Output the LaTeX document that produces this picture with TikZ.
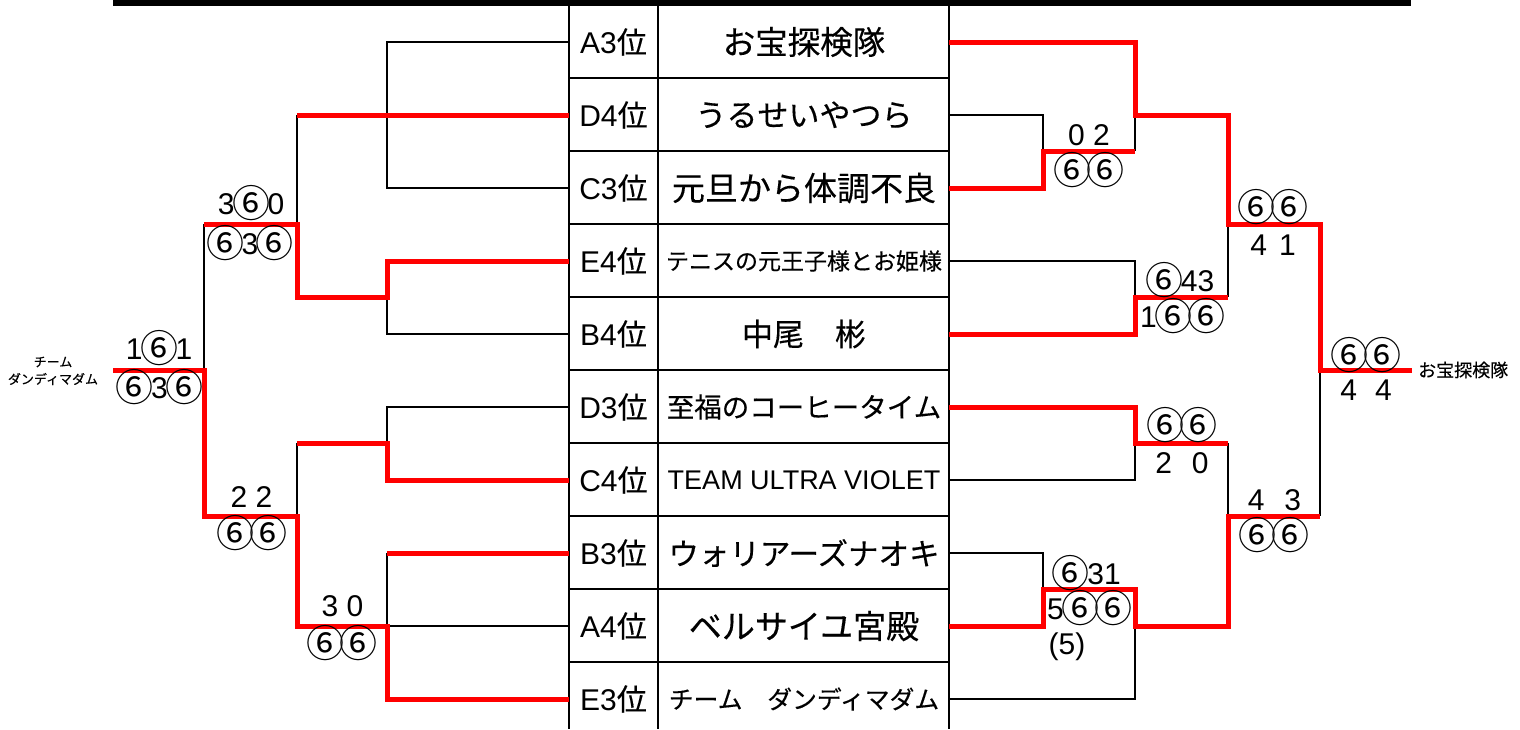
\documentclass[tikz,border=0pt]{standalone}
\usepackage{fontspec}
\setmainfont{Liberation Sans}
\newfontfamily\jp[FakeBold=0.3]{Noto Sans CJK JP}
\newfontfamily\jpc{Noto Sans CJK JP}
\newcommand\fs[1]{\fontsize{#1}{#1}\selectfont}
\newcommand\cir{\makebox[33pt]{\raisebox{-2.5pt}{\jpc\fs{38}⑥}}}
\definecolor{winred}{RGB}{255,0,0}
\begin{document}
\begin{tikzpicture}[x=1pt,y=-1pt,
  grid/.style={line width=1.6pt,black},
  lose/.style={line width=1.6pt,black,line join=miter},
  win/.style={line width=5pt,winred,line join=miter},
  lbl/.style={inner sep=0pt,anchor=center},
  rank/.style={lbl,font=\fs{30}},
  score/.style={lbl,font=\fs{30}}]
\useasboundingbox (0,0) rectangle (1520,729);
% top bar
\fill (113,0) rectangle (1411,5.5);
% table grid
\foreach \y in {78,151,224,297,370,443,516,589,662}
  \draw[grid] (569,\y) -- (949,\y);
\draw[grid] (569,5) -- (569,729);
\draw[grid] (658,5) -- (658,729);
\draw[grid] (949,5) -- (949,729);
% rank column
\node[rank] (rank1) at (613.5,42) {A3{\jp 位}};
\node[rank] (rank2) at (613.5,115) {D4{\jp 位}};
\node[rank] (rank3) at (613.5,188) {C3{\jp 位}};
\node[rank] (rank4) at (613.5,261) {E4{\jp 位}};
\node[rank] (rank5) at (613.5,334) {B4{\jp 位}};
\node[rank] (rank6) at (613.5,407) {D3{\jp 位}};
\node[rank] (rank7) at (613.5,480) {C4{\jp 位}};
\node[rank] (rank8) at (613.5,553) {B3{\jp 位}};
\node[rank] (rank9) at (613.5,626) {A4{\jp 位}};
\node[rank] (rank10) at (613.5,699) {E3{\jp 位}};
% team column
\node[lbl,font=\jp\fs{32.5}] (team1) at (804,42) {お宝探検隊};
\node[lbl,font=\jp\fs{31}] (team2) at (804,115) {うるせいやつら};
\node[lbl,font=\jp\fs{33}] (team3) at (804,188) {元旦から体調不良};
\node[lbl,font=\jp\fs{23}] (team4) at (804,261) {テニスの元王子様とお姫様};
\node[lbl,font=\jp\fs{31}] (team5) at (804,334) {中尾　彬};
\node[lbl,font=\jp\fs{27.5}] (team6) at (804,407) {至福のコーヒータイム};
\node[lbl,font=\fs{27}] (team7) at (804,480) {TEAM ULTRA VIOLET};
\node[lbl,font=\jp\fs{30.5}] (team8) at (804,553) {ウォリアーズナオキ};
\node[lbl,font=\jp\fs{33}] (team9) at (804,626) {ベルサイユ宮殿};
\node[lbl,font=\jp\fs{24.8}] (team10) at (804,699) {チーム　ダンディマダム};
% ---------- left bracket: losing lines ----------
\draw[lose] (569,42) -- (387,42) -- (387,188) -- (569,188);
\draw[lose] (297,115) -- (297,224);
\draw[lose] (387,297) -- (387,334) -- (569,334);
\draw[lose] (204,224) -- (204,370);
\draw[lose] (569,407) -- (387,407) -- (387,443);
\draw[lose] (297,443) -- (297,516);
\draw[lose] (387,553) -- (387,626) -- (569,626);
% ---------- right bracket: losing lines ----------
\draw[lose] (949,115) -- (1043,115) -- (1043,151);
\draw[lose] (1135,115) -- (1135,151);
\draw[lose] (949,261) -- (1135,261) -- (1135,297);
\draw[lose] (1228,297) -- (1228,224);
\draw[lose] (1135,443) -- (1135,480) -- (949,480);
\draw[lose] (1228,443) -- (1228,516);
\draw[lose] (1320,516) -- (1320,370);
\draw[lose] (949,553) -- (1043,553) -- (1043,589);
\draw[lose] (1135,626) -- (1135,699) -- (949,699);
% ---------- left bracket: winning lines ----------
\draw[win] (569,115) -- (297,115);
\draw[win] (569,261) -- (387,261) -- (387,297) -- (297,297) -- (297,224) -- (204,224);
\draw[win] (569,480) -- (387,480) -- (387,443) -- (297,443);
\draw[win] (569,553) -- (387,553);
\draw[win] (569,699) -- (387,699) -- (387,626) -- (297,626) -- (297,516) -- (204,516) -- (204,370) -- (113,370);
% ---------- right bracket: winning lines ----------
\draw[win] (949,42) -- (1135,42) -- (1135,115) -- (1228,115) -- (1228,224) -- (1320,224) -- (1320,370) -- (1412,370);
\draw[win] (949,188) -- (1043,188) -- (1043,151) -- (1135,151);
\draw[win] (949,334) -- (1135,334) -- (1135,297) -- (1228,297);
\draw[win] (949,407) -- (1135,407) -- (1135,443) -- (1228,443);
\draw[win] (949,626) -- (1043,626) -- (1043,589) -- (1135,589) -- (1135,626) -- (1228,626) -- (1228,516) -- (1320,516);
% ---------- scores, left ----------
\node[score] (l1a) at (251,203) {3\cir0};
\node[score] (l1b) at (250,243) {\cir3\cir};
\node[score] (l2a) at (159,348) {1\cir1};
\node[score] (l2b) at (159.5,387) {\cir3\cir};
\node[score] (l3a) at (251.5,497) {2 2};
\node[score] (l3b) at (251.5,533) {\cir\cir};
\node[score] (l4a) at (342.5,606) {3 0};
\node[score] (l4b) at (342,643) {\cir\cir};
% ---------- scores, right ----------
\node[score] (r1a) at (1089,135) {0 2};
\node[score] (r1b) at (1089,170) {\cir\cir};
\node[score] (r2a) at (1181,280) {\cir43};
\node[score] (r2b) at (1181.5,316) {1\cir\cir};
\node[score] (r3a) at (1182,425) {\cir\cir};
\node[score] (r3b) at (1182,463) {2\hspace{20pt}0};
\node[score] (r4a) at (1087.5,573) {\cir31};
\node[score] (r4b) at (1088.5,608) {5\cir\cir};
\node[score] (r4c) at (1067,647) {(5)};
\node[score] (s1a) at (1273,207) {\cir\cir};
\node[score] (s1b) at (1273,245) {4\hspace{12pt}1};
\node[score] (s2a) at (1274.5,500) {4\hspace{20pt}3};
\node[score] (s2b) at (1274,535) {\cir\cir};
\node[score] (fa) at (1366,355) {\cir\cir};
\node[score] (fb) at (1366,390) {4\hspace{18pt}4};
% ---------- winners ----------
\node[lbl,font=\jp\fs{13}] (lw1) at (53,362) {チーム};
\node[lbl,font=\jp\fs{13}] (lw2) at (53,379) {ダンディマダム};
\node[inner sep=0pt,anchor=west,font=\jp\fs{18}] (rw) at (1418,370) {お宝探検隊};
\end{tikzpicture}
\end{document}
